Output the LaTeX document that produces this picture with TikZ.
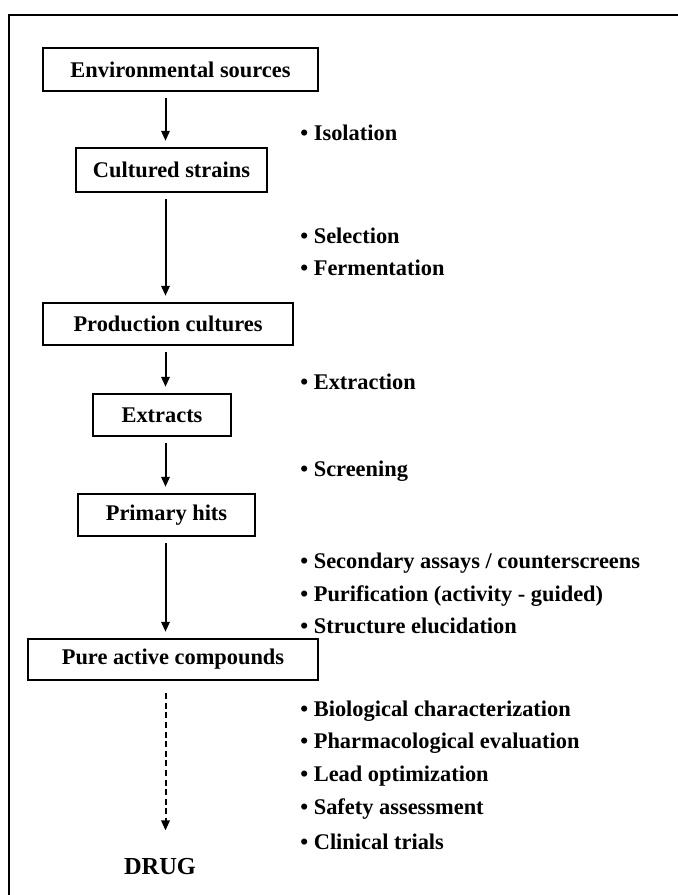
\documentclass[tikz,border=0pt]{standalone}
\usepackage{fontspec}
\setmainfont{Liberation Serif}
\usetikzlibrary{arrows.meta}
\begin{document}
\begin{tikzpicture}[x=0.5pt,y=-0.5pt,
  every node/.style={font=\fontsize{11.2}{13}\selectfont\bfseries, inner sep=0pt},
  stagebox/.style={draw, line width=1.2pt, minimum height=21pt, anchor=center},
  flowarrow/.style={line width=1pt, -{Triangle[length=5pt,width=4.2pt]}, shorten <=3pt, shorten >=3pt},
  dasharrow/.style={flowarrow, dash pattern=on 3pt off 1.8pt},
  bulletitem/.style={anchor=base west},
  frameline/.style={line width=1.1pt}]
\useasboundingbox (0,0) rectangle (678,895);
% frame (open at right and bottom as cropped)
\coordinate (ftl) at (9,15);
\coordinate (ftr) at (678,15);
\coordinate (fbl) at (9,895);
\draw[frameline] (fbl) -- (ftl) -- (ftr);
% arrow axis
\coordinate (ax) at (165.5,0);
% stage boxes
\node[stagebox, minimum width=137.5pt, minimum height=21.5pt] (env)  at (180.5,69.5) {Environmental sources};
\node[stagebox, minimum width=95.5pt, minimum height=22pt]  (cult) at (171.5,170)  {Cultured strains};
\node[stagebox, minimum width=125pt]   (prod) at (168,324)    {Production cultures};
\node[stagebox, minimum width=69pt]    (extr) at (162,415)    {Extracts};
\node[stagebox, minimum width=88.5pt]  (prim) at (166.5,515)  {Primary hits};
\node[stagebox, minimum width=145pt, minimum height=20.5pt] (pure) at (173,659.5) {Pure active compounds};
\node[font=\fontsize{12.2}{14}\selectfont\bfseries] (drug) at (160,867) {DRUG};
% arrows
\draw[flowarrow] (env.south -| ax) -- (cult.north -| ax);
\draw[flowarrow] (cult.south -| ax) -- (prod.north -| ax);
\draw[flowarrow] (prod.south -| ax) -- (extr.north -| ax);
\draw[flowarrow] (extr.south -| ax) -- (prim.north -| ax);
\draw[flowarrow] (prim.south -| ax) -- (pure.north -| ax);
\draw[dasharrow, shorten <=6pt, shorten >=14pt] (pure.south -| ax) -- (drug.north -| ax);
% step annotations
\node[bulletitem] (b1) at (300,140) {\textbullet\ Isolation};
\node[bulletitem] (b2) at (300,243) {\textbullet\ Selection};
\node[bulletitem] (b3) at (300,275) {\textbullet\ Fermentation};
\node[bulletitem] (b4) at (300,389) {\textbullet\ Extraction};
\node[bulletitem] (b5) at (300,476) {\textbullet\ Screening};
\node[bulletitem] (b6) at (300,568) {\textbullet\ Secondary assays / counterscreens};
\node[bulletitem] (b7) at (300,601) {\textbullet\ Purification (activity - guided)};
\node[bulletitem] (b8) at (300,633) {\textbullet\ Structure elucidation};
\node[bulletitem] (b9)  at (300,716) {\textbullet\ Biological characterization};
\node[bulletitem] (b10) at (300,748) {\textbullet\ Pharmacological evaluation};
\node[bulletitem] (b11) at (300,781) {\textbullet\ Lead optimization};
\node[bulletitem] (b12) at (300,814) {\textbullet\ Safety assessment};
\node[bulletitem] (b13) at (300,849) {\textbullet\ Clinical trials};
\end{tikzpicture}
\end{document}
